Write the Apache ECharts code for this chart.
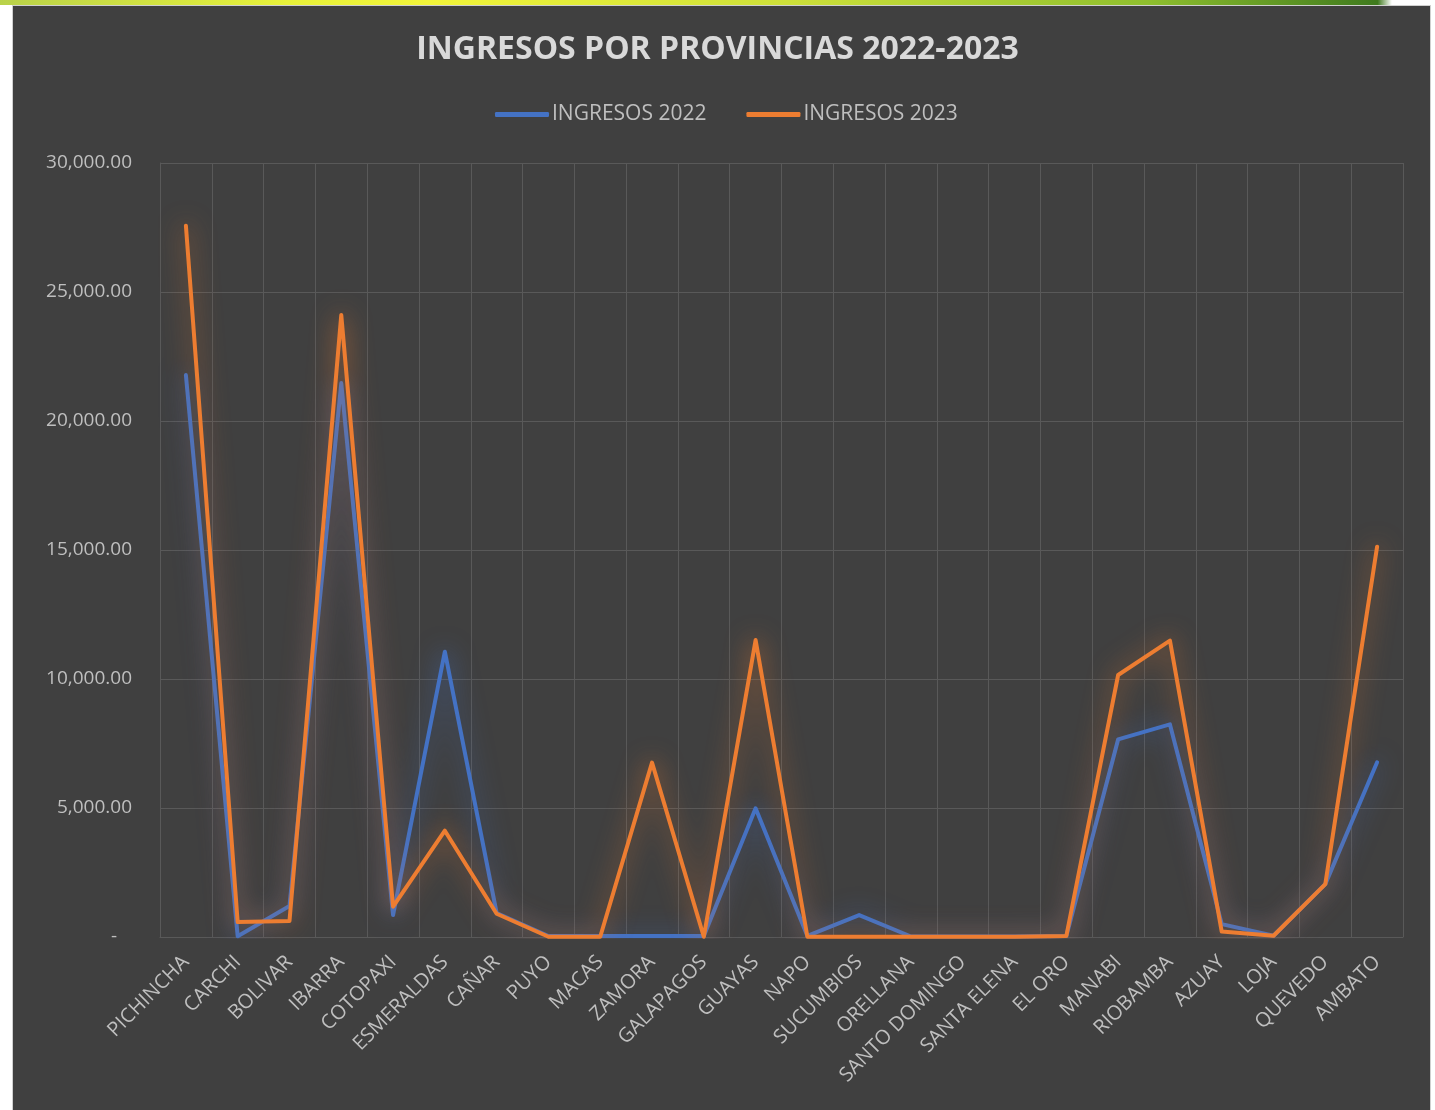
<!DOCTYPE html>
<html>
<head>
<meta charset="utf-8">
<script src="https://cdn.jsdelivr.net/npm/echarts@6/dist/echarts.min.js"></script>
<style>
html,body{margin:0;padding:0;background:#ffffff;width:1435px;height:1110px;overflow:hidden;}
#strip{position:absolute;left:0;top:0;width:1435px;height:5px;background:linear-gradient(90deg,#b9d24a 0%,#e8f23a 20%,#f2f53a 30%,#cde03a 55%,#8fbf2e 80%,#3f7a1e 96%,#ffffff 97%);}
#panel{position:absolute;left:12px;top:5px;width:1419px;height:1105px;background:#404040;border-left:1px solid #d0d0d0;border-right:1px solid #d0d0d0;border-top:1px solid #d0d0d0;box-sizing:border-box;}
#chart{position:absolute;left:0;top:0;width:1435px;height:1110px;}
</style>
</head>
<body>
<div id="strip"></div>
<div id="panel"></div>
<div id="chart"></div>
<script>
const categories = ['PICHINCHA','CARCHI','BOLIVAR','IBARRA','COTOPAXI','ESMERALDAS','CAÑAR','PUYO','MACAS','ZAMORA','GALAPAGOS','GUAYAS','NAPO','SUCUMBIOS','ORELLANA','SANTO DOMINGO','SANTA ELENA','EL ORO','MANABI','RIOBAMBA','AZUAY','LOJA','QUEVEDO','AMBATO'];
const ingresos2022 = [21780, 30, 1200, 21470, 850, 11060, 930, 40, 40, 40, 40, 4990, 40, 850, 20, 20, 20, 40, 7660, 8240, 500, 50, 2050, 6770];
const ingresos2023 = [27570, 580, 620, 24110, 1175, 4120, 900, 10, 10, 6760, 10, 11510, 10, 10, 10, 10, 10, 40, 10155, 11485, 210, 50, 2050, 15130];
const seriesNames = ['INGRESOS 2022','INGRESOS 2023'];
const yTicks = {min: 0, max: 30000, interval: 5000};

const chart = echarts.init(document.getElementById('chart'), null, {renderer:'canvas'});
const gridColor = '#595959';
const labelColor = '#bfbfbf';
const fontFam = '"Open Sans", "Noto Sans", sans-serif';
function fmt(v){
  if (v === 0) return '-   ';
  return v.toLocaleString('en-US',{minimumFractionDigits:2, maximumFractionDigits:2});
}
chart.setOption({
  backgroundColor: 'transparent',
  animation: false,
  title: {
    text: 'INGRESOS POR PROVINCIAS 2022-2023',
    left: 'center', top: 29,
    textStyle: {color:'#d9d9d9', fontSize: 32, fontWeight:'bold', fontFamily: fontFam}
  },
  legend: {
    data: seriesNames,
    top: 99, left: 490,
    itemWidth: 54, itemHeight: 5, itemGap: 40,
    icon: 'roundRect',
    textStyle: {color: labelColor, fontSize: 21, fontFamily: fontFam, padding:[0,0,0,-2]}
  },
  grid: {left: 160, right: 32, top: 163, bottom: 173, containLabel:false},
  xAxis: {
    type: 'category',
    data: categories,
    boundaryGap: true,
    axisLine: {show:true, lineStyle:{color:gridColor, width:1}},
    axisTick: {show:false},
    splitLine: {show:true, lineStyle:{color:gridColor, width:1}},
    axisLabel: {color: labelColor, fontSize: 20, fontFamily: fontFam, rotate: 45, interval: 0, margin: 22}
  },
  yAxis: {
    type: 'value',
    min: yTicks.min, max: yTicks.max, interval: yTicks.interval,
    axisLine: {show:true, lineStyle:{color:gridColor, width:1}},
    axisTick: {show:false},
    splitLine: {show:true, lineStyle:{color:gridColor, width:1}},
    axisLabel: {color: labelColor, fontSize: 19, fontFamily: fontFam, margin: 28, formatter: fmt}
  },
  series: [
    {
      name: seriesNames[0], type:'line', data: ingresos2022,
      symbol:'none', color:'#4472C4',
      lineStyle:{width:4, color:'#4472C4', shadowBlur:24, shadowColor:'rgba(68,114,196,0.75)', cap:'round', join:'round'}
    },
    {
      name: seriesNames[1], type:'line', data: ingresos2023,
      symbol:'none', color:'#ED7D31',
      lineStyle:{width:4, color:'#ED7D31', shadowBlur:24, shadowColor:'rgba(237,125,49,0.75)', cap:'round', join:'round'}
    }
  ]
});
</script>
</body>
</html>
